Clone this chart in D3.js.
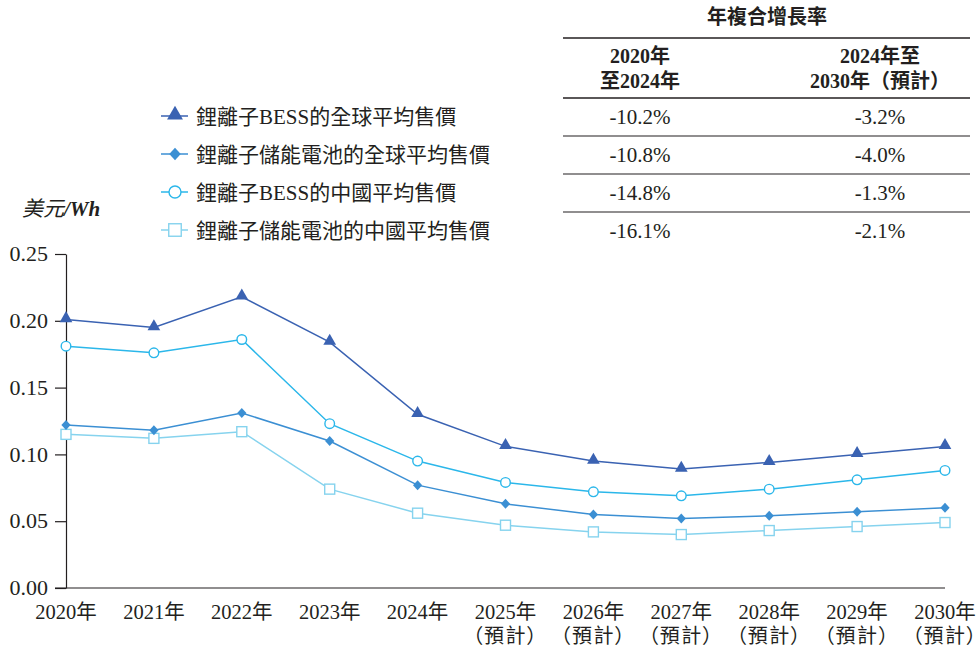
<!DOCTYPE html>
<html lang="zh-Hant">
<head>
<meta charset="utf-8">
<title>鋰離子BESS平均售價</title>
<script src="https://cdn.jsdelivr.net/npm/d3@7"></script>
<style>
  body { margin: 0; background: #fff; }
  text { font-family: "Liberation Serif", "Noto Sans CJK TC", serif; fill: #231f20; }
  .palt { font-feature-settings: "palt"; }
</style>
</head>
<body>
<script>

// Data
var years = ["2020", "2021", "2022", "2023", "2024", "2025", "2026", "2027", "2028", "2029", "2030"];
var forecastFrom = 2025;

var globalBess    = [0.201, 0.195, 0.218, 0.184, 0.130, 0.106, 0.095, 0.089, 0.094, 0.100, 0.106];
var globalBattery = [0.122, 0.118, 0.131, 0.110, 0.077, 0.063, 0.055, 0.052, 0.054, 0.057, 0.060];
var chinaBess     = [0.181, 0.176, 0.186, 0.123, 0.095, 0.079, 0.072, 0.069, 0.074, 0.081, 0.088];
var chinaBattery  = [0.115, 0.112, 0.117, 0.074, 0.056, 0.047, 0.042, 0.040, 0.043, 0.046, 0.049];

var seriesNames = ["鋰離子BESS的全球平均售價", "鋰離子儲能電池的全球平均售價", "鋰離子BESS的中國平均售價", "鋰離子儲能電池的中國平均售價"];
var yTicks = [0, 0.05, 0.10, 0.15, 0.20, 0.25];

var cagrTitle = "年複合增長率";
var cagrHeads = [["2020年", "至2024年"], ["2024年至", "2030年（預計）"]];
var cagr1 = ["-10.2%", "-10.8%", "-14.8%", "-16.1%"];
var cagr2 = ["-3.2%", "-4.0%", "-1.3%", "-2.1%"];

var series = [
  {name: seriesNames[0], values: globalBess,    color: "#3a62b2", shape: "triangle"},
  {name: seriesNames[1], values: globalBattery, color: "#3b8fd3", shape: "diamond"},
  {name: seriesNames[2], values: chinaBess,     color: "#2bb7ea", shape: "circle"},
  {name: seriesNames[3], values: chinaBattery,  color: "#86d3ee", shape: "square"}
];

/*********************************************************************/
// Canvas

var width = 977, height = 654;
var svg = d3.select("body").append("svg")
  .attr("width", width)
  .attr("height", height);

var x = d3.scalePoint().domain(years).range([66, 945]);
var y = d3.scaleLinear().domain([0, 0.25]).range([588, 254]);

/*********************************************************************/
// Axes

var yAxis = svg.append("g")
  .attr("transform", "translate(66,0)")
  .call(d3.axisLeft(y).tickValues(yTicks).tickFormat(d3.format(".2f")).tickSize(11).tickSizeOuter(0));
yAxis.select(".domain").attr("stroke", "#231f20").attr("stroke-width", 1.2);
yAxis.selectAll(".tick line").attr("stroke", "#231f20").attr("stroke-width", 1.2);
yAxis.selectAll(".tick text")
  .attr("x", -18)
  .attr("dy", "0.3em")
  .style("font-size", "22px")
  .style("font-family", "'Liberation Serif', serif")
  .attr("fill", "#231f20");

svg.append("line")
  .attr("x1", 55).attr("x2", x("2030"))
  .attr("y1", y(0)).attr("y2", y(0))
  .attr("stroke", "#231f20").attr("stroke-width", 1.2);

var xl = svg.append("g").selectAll("g").data(years).join("g")
  .attr("transform", function(d) { return "translate(" + x(d) + ",0)"; });
xl.append("text")
  .attr("y", 619)
  .attr("text-anchor", "middle")
  .style("font-size", "20.5px")
  .text(function(d) { return d + "年"; });
xl.filter(function(d) { return +d >= forecastFrom; }).append("text")
  .attr("class", "palt")
  .attr("y", 643)
  .attr("text-anchor", "middle")
  .style("font-size", "20px")
  .style("letter-spacing", "1.5px")
  .text("（預計）");

var unit = svg.append("text")
  .attr("x", 22).attr("y", 216)
  .style("font-size", "21px")
  .style("font-style", "italic");
unit.append("tspan").text("美元");
unit.append("tspan").style("font-weight", "bold").text("/Wh");

/*********************************************************************/
// Lines and markers

var line = d3.line()
  .x(function(d, i) { return x(years[i]); })
  .y(function(d) { return y(d); });

function drawMarker(g, shape, color, k) {
  if (shape == "triangle") {
    g.append("path").attr("d", d3.symbol().type(d3.symbolTriangle).size(70 * k * k)).attr("fill", color).attr("transform", "translate(0,-1)");
  } else if (shape == "diamond") {
    g.append("path").attr("d", "M0," + (-5 * k) + "L" + (4.6 * k) + ",0L0," + (5 * k) + "L" + (-4.6 * k) + ",0Z").attr("fill", color);
  } else if (shape == "circle") {
    g.append("circle").attr("r", 4.8 * k).attr("fill", "#fff").attr("stroke", color).attr("stroke-width", 1.4);
  } else {
    g.append("rect").attr("x", -5 * k).attr("y", -5 * k).attr("width", 10 * k).attr("height", 10 * k)
      .attr("fill", "#fff").attr("stroke", color).attr("stroke-width", 1.4);
  }
}

// draw bottom series first
series.slice().reverse().forEach(function(s) {
  svg.append("path")
    .attr("d", line(s.values))
    .attr("fill", "none")
    .attr("stroke", s.color)
    .attr("stroke-width", 1.5);
  s.values.forEach(function(v, i) {
    var g = svg.append("g").attr("transform", "translate(" + x(years[i]) + "," + y(v) + ")");
    drawMarker(g, s.shape, s.color, 1);
  });
});

/*********************************************************************/
// Legend

series.forEach(function(s, i) {
  var ly = 116 + i * 38;
  svg.append("line")
    .attr("x1", 161).attr("x2", 188)
    .attr("y1", ly).attr("y2", ly)
    .attr("stroke", s.color).attr("stroke-width", 1.5);
  var g = svg.append("g").attr("transform", "translate(175," + ly + ")");
  drawMarker(g, s.shape, s.color, 1.25);
  svg.append("text")
    .attr("x", 196).attr("y", ly + 8)
    .style("font-size", "21px")
    .text(s.name);
});

/*********************************************************************/
// CAGR table

var tx1 = 563, tx2 = 970, c1 = 640, c2 = 880;

svg.append("text")
  .attr("x", 767).attr("y", 24)
  .attr("text-anchor", "middle")
  .style("font-size", "20px")
  .style("font-weight", "bold")
  .style("font-family", "'Noto Sans CJK TC', sans-serif")
  .text(cagrTitle);

[38, 98, 136, 174, 212].forEach(function(ly, i) {
  svg.append("line")
    .attr("x1", tx1).attr("x2", tx2)
    .attr("y1", ly).attr("y2", ly)
    .attr("stroke", "#231f20").attr("stroke-width", i < 2 ? 1.4 : 1.1);
});

[c1, c2].forEach(function(cx, j) {
  cagrHeads[j].forEach(function(t, k) {
    svg.append("text")
      .attr("x", cx).attr("y", 63 + k * 25)
      .attr("text-anchor", "middle")
      .style("font-size", "20px")
      .style("font-weight", "bold")
      .text(t);
  });
});

cagr1.forEach(function(v, i) {
  svg.append("text").attr("x", c1).attr("y", 124 + i * 38)
    .attr("text-anchor", "middle").style("font-size", "21px").text(v);
  svg.append("text").attr("x", c2).attr("y", 124 + i * 38)
    .attr("text-anchor", "middle").style("font-size", "21px").text(cagr2[i]);
});

</script>
</body>
</html>
